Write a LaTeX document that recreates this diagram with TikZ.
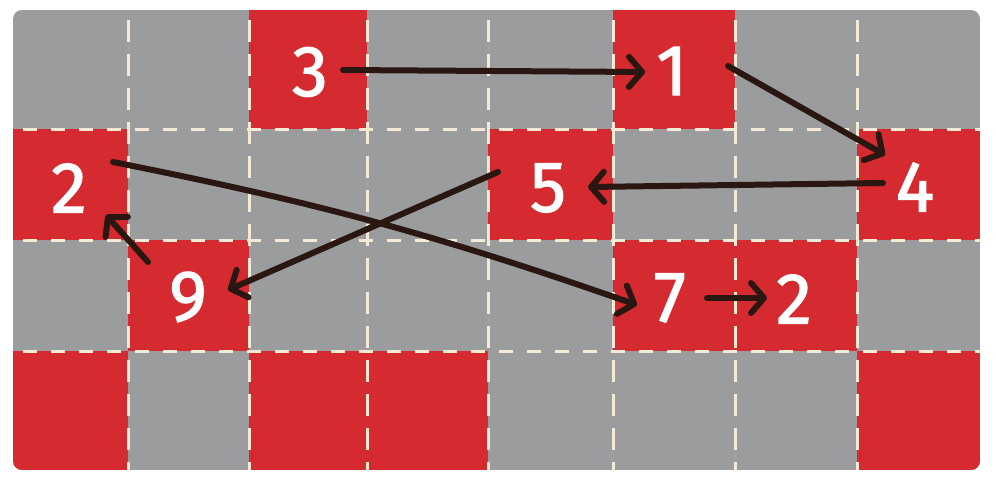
\documentclass[tikz,border=0pt]{standalone}
\usepackage{fontspec}
\setmainfont{Fira Sans}
\newfontfamily\digitfont[FakeBold=1.6]{Fira Sans}
\usetikzlibrary{arrows.meta,calc}
\definecolor{cellgrey}{HTML}{9A9C9E}
\definecolor{cellred}{HTML}{D62A31}
\definecolor{dashcream}{HTML}{F4EAD5}
\definecolor{ink}{HTML}{2B1712}
\begin{document}
\begin{tikzpicture}[x=1pt,y=-1pt,
 digit/.style={text=white, font=\digitfont\fontsize{72}{72}\selectfont, inner sep=0pt},
 arr/.style={ink, line width=6pt, line cap=round, line join=round,
   -{Straight Barb[length=13pt,width=30pt,line cap=round,line join=round]}},
 vdash/.style={dashcream, line width=3pt, dash pattern=on 22pt off 12pt, dash phase=-10pt},
 hdash/.style={dashcream, line width=3pt, dash pattern=on 14pt off 14pt, dash phase=-10pt}]
\useasboundingbox (0,0) rectangle (996,480);
\begin{scope}
\clip[rounded corners=9pt] (13,10) rectangle (980,470);
\fill[cellgrey] (13,10) rectangle (980,470);
\foreach \a/\b/\c/\d in {249/10/367/129, 613/10/735/129, 13/129/128/240, 488/129/613/240,
  857/129/980/240, 128/240/249/351, 613/240/857/351, 13/351/128/470, 249/351/488/470,
  857/351/980/470}
  \fill[cellred] (\a,\b) rectangle (\c,\d);
\foreach \x in {128,249,367,488,613,735,857} \draw[vdash] (\x,10) -- (\x,470);
\foreach \y in {129,240,351} \draw[hdash] (13,\y) -- (980,\y);
\end{scope}
\node[digit] (n3) at (310,72) {3};
\node[digit] (n1) at (672,71) {1};
\node[digit] (n2) at (69,188) {2};
\node[digit] (n5) at (548,188) {5};
\node[digit] (n4) at (915,187) {4};
\node[digit] (n9) at (188,297) {9};
\node[digit] (n7) at (670,298) {7};
\node[digit] (n2b) at (794,299) {2};
\draw[arr] ($(n3)+(33,-2)$) -- ($(n1)+(-27,1)$);
\draw[arr] ($(n1)+(56,-5)$) -- ($(n4)+(-30,-32)$);
\draw[arr] ($(n4)+(-32,-4)$) -- ($(n5)+(40,-1)$);
\draw[arr] ($(n5)+(-50,-16)$) -- ($(n9)+(40,-7)$);
\draw[arr] ($(n9)+(-40,-35)$) -- ($(n2)+(37,27)$);
\draw[arr] ($(n2)+(44,-26)$) to[bend left=4] ($(n7)+(-33,7)$);
\draw[arr] ($(n7)+(37,0)$) -- ($(n2b)+(-27,-1)$);
\end{tikzpicture}
\end{document}
